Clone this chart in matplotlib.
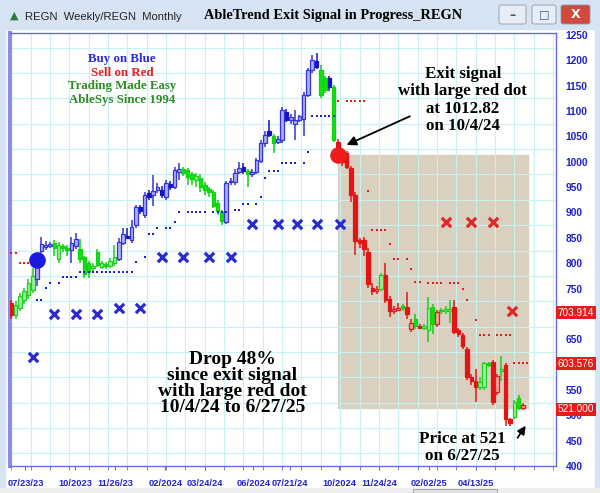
import numpy as np
import matplotlib.pyplot as plt
from matplotlib.patches import Rectangle, FancyBboxPatch

# weekly bars: open, high, low, close, trend colour (B blue / G green / R red)
opens = [722, 697, 712, 728, 738, 748, 768, 825, 832, 834, 840, 808, 834, 830, 826, 834, 828, 812, 800, 790,
         822, 792, 798, 795, 800, 808, 840, 854, 846, 876, 910, 895, 939, 935, 944, 945, 931, 956, 951, 979,
         985, 984, 975, 964, 968, 955, 946, 941, 918, 900, 882, 960, 960, 980, 990, 981, 975, 980, 1002, 1037,
         1060, 1050, 1040, 1043, 1098, 1083, 1075, 1083, 1085, 1132, 1181, 1199, 1181, 1165, 1165, 1148, 1040, 1010, 1018, 988,
         935, 845, 846, 823, 752, 745, 750, 777, 730, 705, 708, 716, 714, 670, 690, 676, 673, 669, 714, 680,
         705, 706, 706, 713, 668, 659, 630, 575, 567, 556, 556, 604, 606, 545, 588, 600, 492, 496, 535, 514]
highs = [728, 725, 742, 752, 768, 790, 812, 852, 843, 842, 845, 842, 838, 836, 852, 860, 848, 815, 805, 800,
         828, 805, 803, 810, 835, 850, 870, 870, 885, 915, 915, 940, 945, 974, 958, 952, 965, 962, 990, 998,
         990, 988, 980, 978, 975, 960, 950, 945, 925, 905, 962, 968, 985, 1000, 998, 985, 985, 1008, 1042, 1060,
         1083, 1055, 1050, 1108, 1104, 1095, 1102, 1092, 1138, 1185, 1210, 1214, 1190, 1170, 1170, 1152, 1045, 1020, 1022, 992,
         940, 850, 852, 830, 760, 755, 780, 801, 735, 715, 722, 720, 744, 690, 700, 680, 680, 734, 720, 708,
         712, 715, 728, 728, 672, 662, 634, 582, 591, 575, 606, 606, 610, 582, 616, 604, 495, 530, 540, 524]
lows = [690, 690, 705, 720, 730, 742, 755, 820, 826, 830, 815, 800, 822, 815, 800, 828, 800, 770, 770, 785,
        792, 788, 788, 790, 795, 805, 835, 848, 840, 870, 898, 890, 925, 912, 938, 928, 925, 945, 946, 965,
        972, 955, 955, 950, 940, 935, 930, 908, 895, 876, 878, 955, 955, 975, 975, 950, 970, 975, 998, 1030,
        1048, 1018, 1035, 1038, 1078, 1075, 1043, 1078, 1050, 1128, 1175, 1183, 1125, 1135, 1140, 1040, 1008, 992, 985, 921,
        817, 830, 815, 752, 738, 740, 745, 722, 693, 700, 705, 705, 689, 665, 670, 670, 668, 644, 660, 675,
        700, 700, 683, 660, 655, 630, 570, 560, 527, 550, 550, 596, 520, 540, 567, 478, 478, 492, 510, 510]
closes = [697, 718, 735, 745, 760, 775, 807, 838, 836, 838, 830, 836, 830, 826, 840, 848, 808, 778, 782, 795,
          797, 800, 795, 805, 812, 842, 858, 849, 872, 911, 902, 935, 931, 942, 951, 935, 959, 951, 984, 985,
          978, 970, 966, 972, 950, 945, 940, 913, 902, 884, 959, 962, 978, 988, 982, 975, 980, 1004, 1037, 1053,
          1053, 1038, 1045, 1102, 1083, 1088, 1083, 1090, 1132, 1181, 1201, 1187, 1132, 1142, 1148, 1043, 1013, 1000, 990, 935,
          843, 840, 828, 758, 745, 750, 777, 728, 705, 710, 712, 712, 699, 683, 676, 673, 676, 712, 680, 703,
          708, 709, 710, 665, 660, 636, 575, 567, 555, 565, 604, 600, 527, 577, 591, 492, 485, 527, 515, 521]
trend = ('RGGGGGBBBBGGGGBBGGGG' 'GGGGGBBBBBBBBBBBBBBB' 'GGGGGGGGGGBBBBBGBBBB'
         'BGBBBBBBBBBBGGBGRRRR' 'RRRRRRGRRRRGRRGRGGGR' 'GGGRRRRRRGGGRRGRRGGR')

# AbleTrend stop dots (bar index, price)
red_dot_x = [0, 1, 2, 3, 4, 76, 78, 79, 80, 81, 82, 83, 84, 85, 86, 87, 88, 89, 90, 92, 93, 94, 95,
             97, 98, 99, 100, 102, 103, 104, 105, 106, 108, 109, 110, 111, 113, 114, 115, 116, 117, 118, 119, 120]
red_dot_y = [821, 821, 801, 801, 801, 1120, 1120, 1120, 1120, 1120, 1120, 943, 866, 866, 866, 866, 837, 809, 809, 809,
             789, 762, 762, 760, 760, 760, 760, 760, 760, 760, 750, 728, 687, 659, 659, 659, 659, 659, 659, 659,
             604, 604, 604, 604]
blue_dot_x = [6, 7, 8, 9, 11, 12, 13, 14, 15, 16, 17, 18, 19, 20, 21, 22, 23, 24, 25, 26, 27, 28, 29, 31, 32, 33, 34,
              36, 37, 38, 39, 41, 42, 43, 44, 45, 47, 48, 49, 50, 52, 53, 54, 55, 57, 58, 59, 60, 61, 62, 63, 64, 65,
              66, 68, 69, 70, 71, 72, 73, 74, 75]
blue_dot_y = [728, 728, 752, 760, 760, 772, 772, 772, 772, 783, 783, 783, 783, 783, 783, 783, 783, 783, 783, 783, 783,
              783, 803, 813, 858, 858, 870, 870, 870, 882, 901, 901, 901, 901, 901, 901, 901, 901, 901, 901, 905, 905,
              917, 917, 917, 931, 968, 982, 982, 982, 998, 998, 998, 998, 998, 1020, 1090, 1090, 1090, 1090, 1090, 1090]

# monthly stop crosses
blue_x_x = [5, 10, 15, 20, 25, 30, 35, 40, 46, 51, 56, 62, 66.5, 71, 76.5]
blue_x_y = [614, 699, 699, 699, 711, 711, 813, 813, 813, 813, 877, 877, 877, 877, 877]
red_x_x = [101, 107, 112, 116.5]
red_x_y = [882, 882, 882, 705]

buy_bar, buy_price = 6, 807
exit_bar, exit_price = 76, 1012.82
box_low = 515

date_labels = ['07/23/23', '10/2023', '11/26/23', '02/2024', '03/24/24', '06/2024',
               '07/21/24', '10/2024', '11/24/24', '02/02/25', '04/13/25']
date_pos = [3.3, 14.9, 24.2, 35.8, 45.1, 56.3, 64.9, 76.3, 85.6, 97.2, 108.1]
price_ticks = list(range(400, 1251, 50))
hidden_ticks = [600, 700]  # covered by the last-value boxes
last_labels = ['703.914', '603.576', '521.000']
last_vals = [703.914, 603.576, 514]

PAL = {('B', True): ('#aeaef4', '#3434d8'), ('B', False): ('#1414c4', '#1414c4'),
       ('G', True): ('#98f098', '#22cc22'), ('G', False): ('#0ee40e', '#0ed20e'),
       ('R', True): ('#f4a49c', '#e01c1c'), ('R', False): ('#e41414', '#e41414')}

fig = plt.figure(figsize=(6, 4.93), dpi=100, facecolor='white')
W, H = 600., 493.

def px(x0, y0, x1, y1):
    return (x0 / W, 1 - y1 / H, (x1 - x0) / W, (y1 - y0) / H)

# window chrome
for (x0, y0, x1, y1, c) in [(0, 0, 600, 29, '#d6e3f2'), (0, 0, 5, 493, '#d6e3f2'), (595, 0, 600, 493, '#d6e3f2'),
                            (0, 488, 600, 493, '#eeeeee')]:
    l, b, w, h = px(x0, y0, x1, y1)
    fig.patches.append(Rectangle((l, b), w, h, transform=fig.transFigure, color=c, zorder=-2))
for (x0, x1, c) in [(499, 526, '#e6edf6'), (532, 556, '#e6edf6'), (561, 590, '#d24a3c')]:
    l, b, w, h = px(x0, 5, x1, 24)
    fig.patches.append(FancyBboxPatch((l, b), w, h, boxstyle='round,pad=0,rounding_size=0.004',
                                      transform=fig.transFigure, fc=c, ec='#8899aa', lw=0.6, zorder=-1))
l, b, w, h = px(413, 489, 497, 493)
fig.patches.append(Rectangle((l, b), w, h, transform=fig.transFigure, fc='#e0e0e0', ec='#999999', lw=0.6,
                             zorder=-1))
fig.text(512.5 / W, 1 - 15 / H, '\u2013', color='#445566', ha='center', va='center', fontsize=9, weight='bold')
fig.text(544 / W, 1 - 14 / H, '\u25a1', color='#445566', ha='center', va='center', fontsize=8)
fig.text(575.5 / W, 1 - 14 / H, 'X', color='white', ha='center', va='center', fontsize=9, weight='bold')
fig.text(14 / W, 1 - 16 / H, '\u25b2', color='#2a7a3a', ha='center', va='center', fontsize=8)
fig.text(25 / W, 1 - 17 / H, 'REGN  Weekly/REGN  Monthly', family='Liberation Sans', fontsize=8.1,
         ha='left', va='center', color='#222222')
fig.text(333 / W, 1 - 16 / H, 'AbleTrend Exit Signal in Progress_REGN', family='Liberation Serif',
         weight='bold', fontsize=10.4, ha='center', va='center')

ax = fig.add_axes(px(10, 33, 556, 466))
ax.set_xlim(-0.3, 126.7)
ax.set_ylim(402, 1254)
ax.set_facecolor('white')
for s in ax.spines.values():
    s.set_color('#6a6ae0')
    s.set_linewidth(1.0)
ax.spines['left'].set_linewidth(3)
ax.spines['left'].set_color('#8c8cec')

ax.set_yticks(np.arange(400, 1251, 25), minor=True)
ax.set_yticks(price_ticks)
ax.set_yticklabels(['' if v in hidden_ticks else str(v) for v in price_ticks])
ax.set_xticks(np.arange(0.0, 127, 4.5), minor=True)
ax.set_xticks(date_pos)
ax.set_xticklabels(date_labels)
ax.grid(True, which='minor', color='#c6f2f4', lw=0.8)
ax.grid(False, which='major')
ax.yaxis.tick_right()
ax.tick_params(axis='y', which='both', length=0, pad=7, labelcolor='#2222cc', labelsize=7.4)
ax.tick_params(axis='x', which='major', length=3, color='#6a6ae0', pad=6, labelcolor='#2222cc', labelsize=6.7)
ax.tick_params(axis='x', which='minor', length=3, color='#6a6ae0')
for t in ax.get_xticklabels() + ax.get_yticklabels():
    t.set_fontweight('bold')
    t.set_family('Liberation Sans')

# shaded drop region
ax.add_patch(Rectangle((exit_bar, box_low), 120.2 - exit_bar, exit_price - box_low, color='#d9d0c0', zorder=1))

# candles
idx = np.arange(len(opens))
for i in idx:
    up = closes[i] >= opens[i]
    fc, ec = PAL[(trend[i], up)]
    ax.vlines(i, lows[i], highs[i], color=ec, lw=1.1, zorder=3)
    lo, hi = min(opens[i], closes[i]), max(opens[i], closes[i])
    ax.bar(i, max(hi - lo, 2.5), bottom=lo, width=0.82, color=fc, edgecolor=ec, lw=0.9, zorder=4)

ax.scatter(red_dot_x, red_dot_y, s=4, marker='s', color='#e02020', zorder=5, lw=0)
ax.scatter(blue_dot_x, blue_dot_y, s=4, marker='s', color='#2020d0', zorder=5, lw=0)
ax.scatter(blue_x_x, blue_x_y, marker='x', s=45, color='#2a2ad0', lw=2.3, zorder=5)
ax.scatter(red_x_x, red_x_y, marker='x', s=45, color='#e02828', lw=2.3, zorder=5)
ax.scatter([buy_bar], [buy_price], s=120, color='#1a1ae0', zorder=6)
ax.scatter([exit_bar], [exit_price], s=120, color='#ee1c1c', zorder=6)

# last value boxes on the price scale
for lab, v in zip(last_labels, last_vals):
    ax.text(1.003, (v - 402) / (1254 - 402), lab, transform=ax.transAxes, ha='left', va='center',
            color='white', fontsize=7.2, family='Liberation Sans',
            bbox=dict(boxstyle='square,pad=0.15', fc='#e41c1c', ec='none'))

serif = 'Liberation Serif'
legend_lines = [('Buy on Blue', '#2a2ad8'), ('Sell on Red', '#e82020'),
                ('Trading Made Easy', '#2e8a22'), ('AbleSys Since 1994', '#2e8a22')]
for k, (txt, c) in enumerate(legend_lines):
    ax.text(25.8, 1203 - k * 27, txt, color=c, family=serif, weight='bold', fontsize=9.3,
            ha='center', va='center', zorder=7)

ax.text(105, 1122, 'Exit signal\nwith large red dot\nat 1012.82\non 10/4/24', family=serif, weight='bold',
        fontsize=12.2, ha='center', va='center', linespacing=1.1, zorder=7)
ax.annotate('', xy=(77.4, 1031), xytext=(93.3, 1092),
            arrowprops=dict(arrowstyle='-|>', color='black', lw=1.3, mutation_scale=14), zorder=7)
ax.text(51.4, 563, 'Drop 48%\nsince exit signal\nwith large red dot\n10/4/24 to 6/27/25', family=serif,
        weight='bold', fontsize=14, ha='center', va='center', linespacing=0.93, zorder=7)
ax.text(104.9, 436, 'Price at 521\non 6/27/25', family=serif, weight='bold', fontsize=12.3,
        ha='center', va='center', linespacing=1.05, zorder=7)
ax.annotate('', xy=(120, 484), xytext=(117.4, 451),
            arrowprops=dict(arrowstyle='-|>', color='black', lw=1.3, mutation_scale=12), zorder=7)

fig.savefig('out.png', dpi=100, facecolor=fig.get_facecolor())
